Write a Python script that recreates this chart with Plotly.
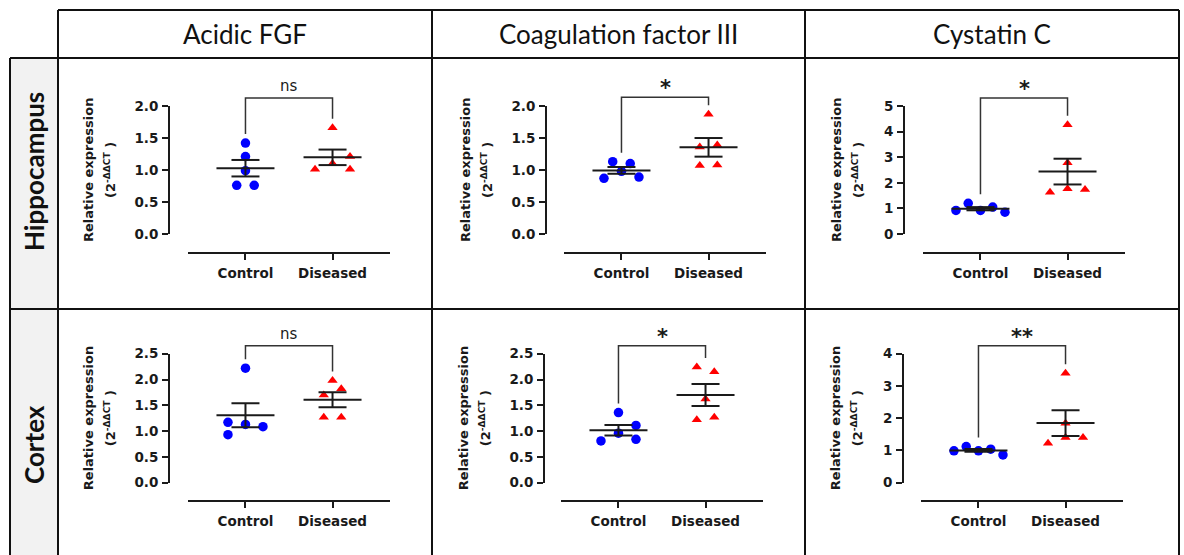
import numpy as np
import plotly.graph_objects as go

W, H = 1184, 555

genes = ["Acidic FGF", "Coagulation factor III", "Cystatin C"]
regions = ["Hippocampus", "Cortex"]
groups = ["Control", "Diseased"]

# Relative expression (2^-ΔΔCT) per animal, in entry order
fgf_hippo_ctrl = [0.76, 0.76, 0.99, 1.21, 1.42]
fgf_hippo_dis = [1.01, 1.10, 1.01, 1.21, 1.66]
f3_hippo_ctrl = [0.87, 0.98, 0.89, 1.13, 1.10]
f3_hippo_dis = [1.07, 1.08, 1.36, 1.39, 1.87]
cst_hippo_ctrl = [0.92, 1.20, 0.92, 1.05, 0.85]
cst_hippo_dis = [1.63, 1.77, 1.74, 2.78, 4.27]

fgf_cortex_ctrl = [2.22, 1.17, 1.13, 1.085, 0.93]
fgf_cortex_dis = [1.70, 1.82, 1.27, 1.27, 1.98]
f3_cortex_ctrl = [0.81, 0.96, 0.84, 1.11, 1.36]
f3_cortex_dis = [2.24, 2.15, 1.62, 1.22, 1.27]
cst_cortex_ctrl = [0.99, 1.12, 0.99, 1.04, 0.86]
cst_cortex_dis = [1.22, 1.40, 1.40, 1.84, 3.39]

# Significance of Control vs Diseased
sig_hippo = ["ns", "*", "*"]
sig_cortex = ["ns", "*", "**"]

# Y-axis extent and tick step per panel
ymax_hippo = [2.0, 2.0, 5]
ymax_cortex = [2.5, 2.5, 4]
ystep_hippo = [0.5, 0.5, 1]
ystep_cortex = [0.5, 0.5, 1]

panels = [
    [(fgf_hippo_ctrl, fgf_hippo_dis), (f3_hippo_ctrl, f3_hippo_dis), (cst_hippo_ctrl, cst_hippo_dis)],
    [(fgf_cortex_ctrl, fgf_cortex_dis), (f3_cortex_ctrl, f3_cortex_dis), (cst_cortex_ctrl, cst_cortex_dis)],
]
sigs = [sig_hippo, sig_cortex]
ymaxs = [ymax_hippo, ymax_cortex]
ysteps = [ystep_hippo, ystep_cortex]

# ---- page geometry (pixels) ----
COL_EDGES = [58, 432, 805, 1179]
ROW_TOP, HEAD_BOTTOM, ROW_SPLIT = 10, 58, 309
LABEL_X0 = 10
XDOM_LEFT = [[188, 564, 923], [188, 561, 921]]
YLINE_X = [[169, 546, 904], [169, 544, 903]]
YDOM = [(106, 234), (353.7, 482.7)]
XLINE_Y = [252.7, 500.7]
XDOM_W = 202
XRANGE = (-0.66, 1.66)
PX_PER_X = XDOM_W / (XRANGE[1] - XRANGE[0])

INK = "#1a1a1a"
AX_FONT = "DejaVu Sans"
TICK_FONT = dict(family=AX_FONT, size=13.5, color=INK, weight=700)
BLUE, RED = "#0000ff", "#ff0000"


def fx(px):
    return px / W


def fy(py):
    return 1 - py / H


def swarm_offsets(vals, px_per_y, s_max=17.5, row_span=49.0, gap=7.5, span=10.0, clear=11.5):
    """Horizontal spread (pixels) of points that would overlap in a column scatter."""
    v = np.asarray(vals, float)
    order = np.argsort(v, kind="stable")
    rows, cur = [], [order[0]]
    for i in order[1:]:
        if (v[i] - v[cur[-1]]) * px_per_y <= gap and (v[i] - v[cur[0]]) * px_per_y <= span:
            cur.append(i)
        else:
            rows.append(cur)
            cur = [i]
    rows.append(cur)
    off = np.zeros(len(v))
    placed = []
    for r in rows:
        if len(r) > 1:
            r = sorted(r)
            k = len(r)
            s = min(s_max, row_span / (k - 1))
            for j, i in enumerate(r):
                off[i] = (j - (k - 1) / 2) * s
                placed.append(i)
    for r in rows:
        if len(r) == 1:
            i = r[0]
            for cand in (0.0, s_max, -s_max, 2 * s_max, -2 * s_max):
                if all(np.hypot(cand - off[p], (v[i] - v[p]) * px_per_y) >= clear for p in placed):
                    break
            off[i] = cand
            placed.append(i)
    return off


fig = go.Figure()
layout = {}
annotations = []
shapes = []

for r in range(2):
    top_px, bot_px = YDOM[r]
    for c in range(3):
        k = r * 3 + c + 1
        kb = k + 6
        xname = "x" if k == 1 else f"x{k}"
        yname = "y" if k == 1 else f"y{k}"
        ybname = f"y{kb}"
        ymax = ymaxs[r][c]
        step = ysteps[r][c]
        px_per_y = (bot_px - top_px) / ymax

        xl = XDOM_LEFT[r][c]
        layout["xaxis" if k == 1 else f"xaxis{k}"] = dict(
            domain=[fx(xl), fx(xl + XDOM_W)], range=list(XRANGE), anchor="free",
            position=fy(XLINE_Y[r]), tickvals=[0, 1], ticktext=groups,
            showline=True, linewidth=2, linecolor=INK, ticks="outside", ticklen=6,
            tickwidth=2, tickcolor=INK, tickfont=TICK_FONT, showgrid=False,
            zeroline=False, fixedrange=True, ticklabelstandoff=2,
        )
        tv = np.arange(0, ymax + step / 2, step)
        layout["yaxis" if k == 1 else f"yaxis{k}"] = dict(
            domain=[fy(bot_px), fy(top_px)], range=[0, ymax], anchor="free",
            position=fx(YLINE_X[r][c]), tickvals=tv,
            tickformat=".1f" if step < 1 else "d",
            showline=True, linewidth=2, linecolor=INK, ticks="outside", ticklen=6,
            tickwidth=2, tickcolor=INK, tickfont=TICK_FONT, showgrid=False,
            zeroline=False, fixedrange=True, ticklabelstandoff=1,
        )
        # taller companion axis (same scale) that holds the significance bracket
        ext_top = top_px - 45
        layout[f"yaxis{kb}"] = dict(
            domain=[fy(bot_px), fy(ext_top)],
            range=[0, (bot_px - ext_top) / px_per_y], anchor=xname,
            visible=False, fixedrange=True,
        )

        ctrl, dis = panels[r][c]
        for g, (vals, color, sym, size) in enumerate(
            [(ctrl, BLUE, "circle", 9.5), (dis, RED, "triangle-up", 9)]
        ):
            off = swarm_offsets(vals, px_per_y) / PX_PER_X
            fig.add_trace(go.Scatter(
                x=g + off, y=vals, mode="markers", xaxis=xname, yaxis=yname,
                marker=dict(symbol=sym, size=size, color=color, line=dict(width=0)),
                showlegend=False, hoverinfo="y",
            ))
        for g, vals in enumerate([ctrl, dis]):
            a = np.asarray(vals, float)
            m = a.mean()
            sem = a.std(ddof=1) / np.sqrt(len(a))
            hw, cw = 29 / PX_PER_X, 14 / PX_PER_X
            ex = [g - hw, g + hw, None, g - cw, g + cw, None, g - cw, g + cw, None, g, g]
            ey = [m, m, None, m + sem, m + sem, None, m - sem, m - sem, None, m - sem, m + sem]
            fig.add_trace(go.Scatter(
                x=ex, y=ey, mode="lines", xaxis=xname, yaxis=yname,
                line=dict(color=INK, width=2), showlegend=False, hoverinfo="skip",
            ))

        # significance bracket
        leg_c = max(ctrl) + 9 / px_per_y
        leg_d = max(dis) + 9 / px_per_y
        br_top = max(ymax, leg_c, leg_d) + 8 / px_per_y
        fig.add_trace(go.Scatter(
            x=[0, 0, 1, 1], y=[leg_c, br_top, br_top, leg_d], mode="lines",
            xaxis=xname, yaxis=ybname, line=dict(color="#333333", width=1.5),
            showlegend=False, hoverinfo="skip",
        ))
        s = sigs[r][c]
        annotations.append(dict(
            x=0.5, y=br_top, xref=xname, yref=ybname, text=s, showarrow=False,
            yanchor="bottom", yshift=1 if s == "ns" else -5,
            font=dict(family=AX_FONT, size=15 if s == "ns" else 21, color=INK,
                      weight=400 if s == "ns" else 700),
        ))

        # y-axis title (two lines)
        o1, o2 = (81, 59) if step < 1 else (68, 46)
        ymid = (top_px + bot_px) / 2
        annotations.append(dict(
            x=fx(YLINE_X[r][c] - o1), y=fy(ymid), xref="paper", yref="paper",
            text="Relative expression", textangle=-90, showarrow=False,
            xanchor="center", yanchor="middle",
            font=dict(family=AX_FONT, size=13, color=INK, weight=700),
        ))
        annotations.append(dict(
            x=fx(YLINE_X[r][c] - o2), y=fy(ymid), xref="paper", yref="paper",
            text="(2<sup>-ΔΔCT</sup> )", textangle=-90, showarrow=False,
            xanchor="center", yanchor="middle",
            font=dict(family=AX_FONT, size=13, color=INK, weight=700),
        ))

# ---- table frame ----
shapes.append(dict(type="rect", xref="paper", yref="paper",
                   x0=fx(LABEL_X0), x1=fx(COL_EDGES[0]), y0=0, y1=fy(HEAD_BOTTOM),
                   fillcolor="#f2f2f2", line=dict(width=0), layer="below"))
LINE = dict(color="#111111", width=2)
segments = [
    (COL_EDGES[0], ROW_TOP, COL_EDGES[-1], ROW_TOP),
    (LABEL_X0, HEAD_BOTTOM, COL_EDGES[-1], HEAD_BOTTOM),
    (LABEL_X0, ROW_SPLIT, COL_EDGES[-1], ROW_SPLIT),
    (LABEL_X0, HEAD_BOTTOM, LABEL_X0, H),
]
for xe in COL_EDGES:
    segments.append((xe, ROW_TOP, xe, H))
for x0, y0, x1, y1 in segments:
    shapes.append(dict(type="line", xref="paper", yref="paper",
                       x0=fx(x0), y0=fy(y0), x1=fx(x1), y1=fy(y1), line=LINE))

for c, name in enumerate(genes):
    annotations.append(dict(
        x=fx((COL_EDGES[c] + COL_EDGES[c + 1]) / 2), y=fy((ROW_TOP + HEAD_BOTTOM) / 2),
        xref="paper", yref="paper", text=name, showarrow=False,
        xanchor="center", yanchor="middle",
        font=dict(family="Lato", size=26, color="#111111"),
    ))
for r, (name, yc) in enumerate(zip(regions, [172, 445])):
    annotations.append(dict(
        x=fx((LABEL_X0 + COL_EDGES[0]) / 2), y=fy(yc), xref="paper", yref="paper",
        text=name, textangle=-90, showarrow=False, xanchor="center", yanchor="middle",
        font=dict(family="Lato", size=26, color="#111111", weight=700),
    ))

fig.update_layout(
    width=W, height=H, margin=dict(l=0, r=0, t=0, b=0, autoexpand=False),
    paper_bgcolor="white", plot_bgcolor="rgba(0,0,0,0)",
    showlegend=False, annotations=annotations, shapes=shapes, **layout,
)

fig.write_html("out.html", config={"displayModeBar": False})
